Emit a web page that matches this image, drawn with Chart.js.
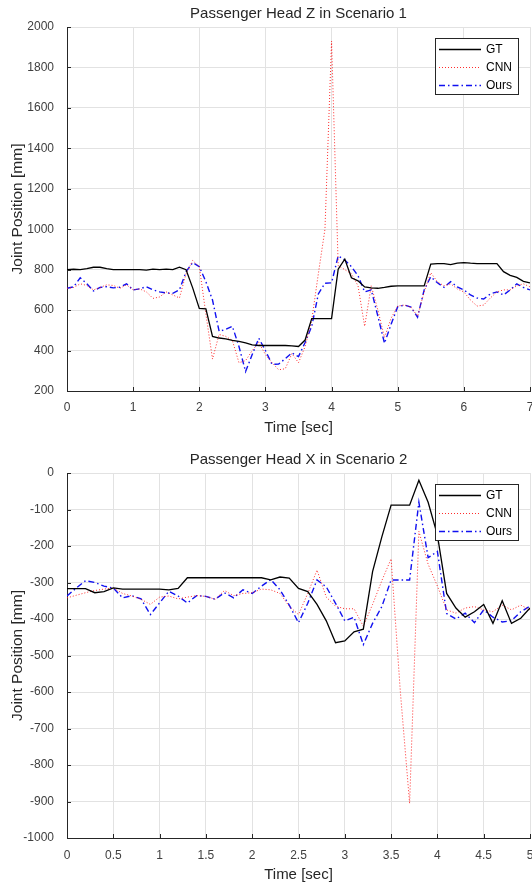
<!DOCTYPE html>
<html>
<head>
<meta charset="utf-8">
<script src="https://cdn.jsdelivr.net/npm/chart.js@4.4.0/dist/chart.umd.min.js"></script>
<style>
html, body { margin: 0; padding: 0; background: #fff; }
.box { position: absolute; left: 0; width: 532px; height: 443px; }
#w1 { top: 0; }
#w2 { top: 443px; }
</style>
</head>
<body>
<div class="box" id="w1"><canvas id="c1" width="532" height="443"></canvas></div>
<div class="box" id="w2"><canvas id="c2" width="532" height="443"></canvas></div>
<script>
// scenario 1 : head Z, sampled every 0.1 s
var time1 = [0, 0.1, 0.2, 0.3, 0.4, 0.5, 0.6, 0.7, 0.8, 0.9,
  1, 1.1, 1.2, 1.3, 1.4, 1.5, 1.6, 1.7, 1.8, 1.9,
  2, 2.1, 2.2, 2.3, 2.4, 2.5, 2.6, 2.7, 2.8, 2.9,
  3, 3.1, 3.2, 3.3, 3.4, 3.5, 3.6, 3.7, 3.8, 3.9,
  4, 4.1, 4.2, 4.3, 4.4, 4.5, 4.6, 4.7, 4.8, 4.9,
  5, 5.1, 5.2, 5.3, 5.4, 5.5, 5.6, 5.7, 5.8, 5.9,
  6, 6.1, 6.2, 6.3, 6.4, 6.5, 6.6, 6.7, 6.8, 6.9, 7];
var gt1 = [800, 802, 800, 805, 812, 812, 805, 800, 800, 800,
  800, 800, 798, 803, 800, 803, 800, 812, 800, 710,
  608, 606, 470, 462, 458, 450, 445, 438, 428, 425,
  425, 425, 425, 425, 423, 420, 452, 558, 558, 558,
  558, 802, 852, 760, 745, 715, 710, 708, 712, 718,
  720, 720, 720, 720, 720, 828, 830, 830, 825, 832,
  835, 832, 830, 830, 830, 830, 790, 772, 762, 742, 735];
var cnn1 = [708, 712, 730, 722, 700, 712, 725, 722, 708, 725,
  700, 705, 690, 658, 665, 690, 675, 660, 780, 845,
  815, 580, 358, 480, 470, 450, 340, 350, 400, 440,
  380, 340, 305, 310, 385, 340, 420, 550, 780, 1000,
  1930, 820, 800, 780, 720, 520, 720, 600, 465, 560,
  620, 625, 615, 570, 690, 785, 740, 720, 730, 705,
  690, 650, 620, 625, 660, 690, 700, 700, 720, 730, 715];
var ours1 = [708, 715, 760, 730, 695, 712, 716, 710, 713, 730,
  700, 705, 716, 700, 690, 685, 683, 700, 790, 835,
  815, 740, 650, 495, 505, 520, 420, 296, 380, 461,
  400, 332, 333, 360, 388, 370, 440, 520, 680, 733,
  735, 868, 848, 815, 770, 690, 700, 570, 436, 530,
  617, 625, 615, 565, 700, 765, 735, 713, 741, 715,
  700, 675, 660, 655, 680, 690, 675, 700, 730, 712, 700];

// scenario 2 : head X
var time2 = [0, 0.1, 0.2, 0.3, 0.4, 0.5, 0.6, 0.7, 0.8, 0.9,
  1, 1.1, 1.2, 1.3, 1.4, 1.5, 1.6, 1.7, 1.8, 1.9,
  2, 2.1, 2.2, 2.3, 2.4, 2.5, 2.6, 2.7, 2.8, 2.9,
  3, 3.1, 3.2, 3.3, 3.4, 3.5, 3.6, 3.7, 3.8, 3.9,
  4, 4.1, 4.2, 4.3, 4.4, 4.5, 4.6, 4.7, 4.8, 4.9, 5];
var gt2 = [-317, -317, -317, -328, -325, -315, -318, -318, -318, -318,
  -318, -320, -316, -287, -287, -287, -287, -287, -287, -287,
  -287, -287, -293, -285, -288, -316, -325, -360, -405, -465,
  -460, -435, -428, -270, -175, -88, -88, -88, -20, -80,
  -170, -330, -370, -395, -380, -360, -412, -350, -412, -398, -370];
var cnn2 = [-342, -335, -328, -322, -318, -315, -330, -337, -346, -360,
  -340, -337, -345, -340, -336, -338, -346, -322, -336, -330,
  -328, -318, -320, -330, -365, -388, -330, -266, -340, -365,
  -372, -372, -420, -360, -295, -235, -600, -905, -160, -250,
  -310, -375, -384, -370, -366, -375, -380, -362, -375, -362, -375];
var ours2 = [-337, -315, -295, -300, -310, -315, -342, -336, -345, -388,
  -356, -324, -337, -356, -336, -338, -346, -328, -342, -320,
  -330, -310, -292, -320, -362, -410, -357, -293, -312, -357,
  -405, -395, -470, -412, -366, -293, -293, -293, -80, -232,
  -215, -385, -400, -384, -410, -375, -395, -408, -405, -380, -365];

var seriesNames = ["GT", "CNN", "Ours"];

Chart.defaults.font.family = "'Liberation Sans', Arial, sans-serif";
Chart.defaults.color = "#262626";

function pts(t, v) {
  return v.map(function (y, i) { return { x: t[i], y: y }; });
}

function makeData(t, g, c, o) {
  return {
    datasets: [
      { label: seriesNames[0], data: pts(t, g), borderColor: "#000000", borderWidth: 1.3 },
      { label: seriesNames[1], data: pts(t, c), borderColor: "rgba(255, 20, 20, 0.9)", borderWidth: 1, borderDash: [1, 2] },
      { label: seriesNames[2], data: pts(t, o), borderColor: "#1010f0", borderWidth: 1.4, borderDash: [6, 3, 1.5, 3] }
    ]
  };
}

// small inward tick marks on the left and bottom axes (matlab style)
var innerTicks = {
  id: "innerTicks",
  afterDatasetsDraw: function (chart) {
    var ctx = chart.ctx;
    var area = chart.chartArea;
    var xs = chart.scales.x, ys = chart.scales.y;
    ctx.save();
    ctx.strokeStyle = "#262626";
    ctx.lineWidth = 1;
    ctx.beginPath();
    xs.ticks.forEach(function (t) {
      var px = Math.round(xs.getPixelForValue(t.value)) + 0.5;
      ctx.moveTo(px, area.bottom);
      ctx.lineTo(px, area.bottom - 4);
    });
    ys.ticks.forEach(function (t) {
      var py = Math.round(ys.getPixelForValue(t.value)) + 0.5;
      ctx.moveTo(area.left, py);
      ctx.lineTo(area.left + 4, py);
    });
    ctx.stroke();
    ctx.restore();
  }
};

// legend box drawn inside the plot, top right, like the matlab one
var boxLegend = {
  id: "boxLegend",
  afterDraw: function (chart) {
    var ctx = chart.ctx;
    var area = chart.chartArea;
    var w = 83, h = 56;
    var x0 = Math.round(area.right - 12 - w);
    var y0 = Math.round(area.top + 11);
    ctx.save();
    ctx.fillStyle = "#ffffff";
    ctx.fillRect(x0, y0, w, h);
    ctx.strokeStyle = "#262626";
    ctx.lineWidth = 1;
    ctx.strokeRect(x0 + 0.5, y0 + 0.5, w, h);
    chart.data.datasets.forEach(function (ds, i) {
      var y = y0 + 11.5 + i * 18;
      ctx.beginPath();
      ctx.setLineDash(ds.borderDash || []);
      ctx.strokeStyle = ds.borderColor;
      ctx.lineWidth = ds.borderWidth;
      ctx.moveTo(x0 + 4, y);
      ctx.lineTo(x0 + 46, y);
      ctx.stroke();
      ctx.setLineDash([]);
      ctx.fillStyle = "#000000";
      ctx.font = "12px 'Liberation Sans', Arial, sans-serif";
      ctx.textBaseline = "middle";
      ctx.fillText(ds.label, x0 + 51, y);
    });
    ctx.restore();
  }
};

function makeOptions(s) {
  return {
    responsive: false,
    animation: false,
    layout: { padding: { left: 0, right: 2, top: 0, bottom: 0 } },
    elements: { point: { radius: 0 }, line: { tension: 0 } },
    plugins: {
      legend: { display: false },
      tooltip: { enabled: false },
      title: {
        display: true,
        text: s.title,
        fullSize: false,
        color: "#262626",
        font: { size: 15, weight: "normal" },
        padding: { top: s.titleTop, bottom: s.titleBottom }
      }
    },
    scales: {
      x: {
        type: "linear",
        min: s.xMin,
        max: s.xMax,
        ticks: {
          stepSize: s.xStep,
          color: "#404040",
          font: { size: 12 },
          padding: s.xTickPad,
          maxRotation: 0,
          autoSkip: false,
          callback: function (v) { return String(Math.round(v * 10) / 10); }
        },
        grid: { color: "#e2e2e2", drawTicks: false },
        border: { color: "#262626", width: 1 },
        title: {
          display: true,
          text: "Time [sec]",
          color: "#262626",
          font: { size: 15 },
          padding: { top: 0, bottom: s.xTitlePad }
        },
        afterFit: function (scale) {
          scale.height = s.xHeight;
          scale.paddingLeft = 0;
          scale.paddingRight = 0;
        }
      },
      y: {
        type: "linear",
        min: s.yMin,
        max: s.yMax,
        ticks: {
          stepSize: s.yStep,
          color: "#404040",
          font: { size: 12 },
          padding: 13,
          callback: function (v) { return String(v); }
        },
        grid: { color: "#e2e2e2", drawTicks: false },
        border: { color: "#262626", width: 1 },
        title: {
          display: true,
          text: "Joint Position [mm]",
          color: "#262626",
          font: { size: 15.5 },
          padding: { top: 8, bottom: 0 }
        },
        afterFit: function (scale) {
          scale.width = 67;
          scale.paddingTop = 0;
          scale.paddingBottom = 0;
        }
      }
    }
  };
}

var A = new Chart(document.getElementById("c1"), {
  type: "line",
  data: makeData(time1, gt1, cnn1, ours1),
  options: makeOptions({
    title: "Passenger Head Z in Scenario 1", titleTop: 5, titleBottom: 4,
    xMin: 0, xMax: 7, xStep: 1, xHeight: 52, xTickPad: 9, xTitlePad: 6,
    yMin: 200, yMax: 2000, yStep: 200
  }),
  plugins: [innerTicks, boxLegend]
});

var B = new Chart(document.getElementById("c2"), {
  type: "line",
  data: makeData(time2, gt2, cnn2, ours2),
  options: makeOptions({
    title: "Passenger Head X in Scenario 2", titleTop: 8, titleBottom: 4,
    xMin: 0, xMax: 5, xStep: 0.5, xHeight: 48, xTickPad: 10, xTitlePad: 2,
    yMin: -1000, yMax: 0, yStep: 100
  }),
  plugins: [innerTicks, boxLegend]
});
</script>
</body>
</html>
